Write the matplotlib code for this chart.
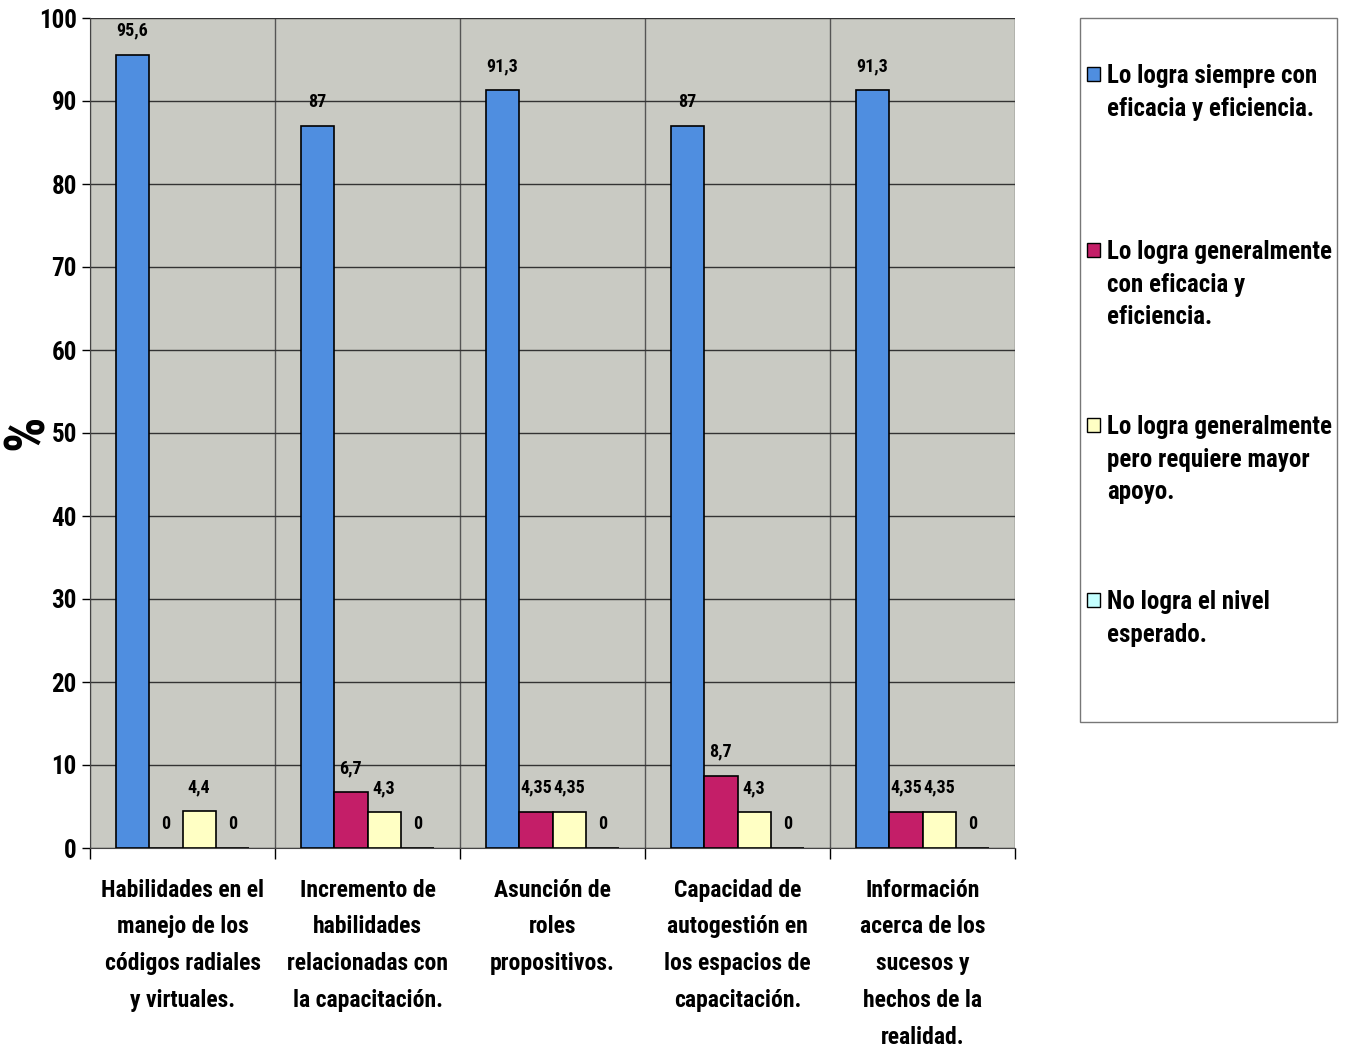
import numpy as np
import matplotlib.pyplot as plt
from matplotlib.patches import Rectangle

plt.rcParams['font.family'] = ['Roboto Condensed', 'DejaVu Sans']
plt.rcParams['font.weight'] = 'bold'

categories = [
    "Habilidades en el\nmanejo de los\ncódigos radiales\ny virtuales.",
    "Incremento de\nhabilidades\nrelacionadas con\nla capacitación.",
    "Asunción de\nroles\npropositivos.",
    "Capacidad de\nautogestión en\nlos espacios de\ncapacitación.",
    "Información\nacerca de los\nsucesos y\nhechos de la\nrealidad.",
]
series_names = [
    "Lo logra siempre con\neficacia y eficiencia.",
    "Lo logra generalmente\ncon eficacia y\neficiencia.",
    "Lo logra generalmente\npero requiere mayor\napoyo.",
    "No logra el nivel\nesperado.",
]
siempre = [95.6, 87, 91.3, 87, 91.3]
generalmente = [0, 6.7, 4.35, 8.7, 4.35]
apoyo = [4.4, 4.3, 4.35, 4.3, 4.35]
no_logra = [0, 0, 0, 0, 0]
colors = ["#4f8ee0", "#c41e68", "#ffffc4", "#c4ffff"]

W, H = 1347, 1048
fig = plt.figure(figsize=(W / 100, H / 100), dpi=100)
ax = fig.add_axes([90 / W, 1 - 848 / H, 925 / W, 830 / H])
ax.set_facecolor("#c9cac3")

x = np.arange(len(categories))
w = 0.18
for i, vals in enumerate([siempre, generalmente, apoyo, no_logra]):
    pos = x + (i - 1.5) * w
    ax.bar(pos, vals, w, color=colors[i], edgecolor="black", linewidth=1.2, zorder=3,
           label=series_names[i])
    for p, v in zip(pos, vals):
        txt = ("%g" % v).replace(".", ",")
        ax.annotate(txt, (p, v), xytext=(0, 11), textcoords="offset points",
                    ha="center", va="bottom", fontsize=13, fontweight="bold")

ax.set_xlim(-0.5, len(categories) - 0.5)
ax.set_ylim(0, 100)
ax.set_yticks(np.arange(0, 101, 10))
ax.tick_params(axis="y", labelsize=18, length=6, width=1)
ax.set_xticks(x)
ax.set_xticklabels(categories, fontsize=17, linespacing=1.77)
ax.tick_params(axis="x", which="major", length=0, pad=22)
ax.set_xticks(np.arange(-0.5, len(categories)), minor=True)
ax.tick_params(axis="x", which="minor", length=8, width=1)
ax.grid(axis="y", color="#333333", linewidth=1, zorder=0)
ax.grid(axis="x", which="minor", color="#555555", linewidth=1, zorder=0)
for s in ["top", "right"]:
    ax.spines[s].set_visible(False)
ax.spines["left"].set_color("#444444")
ax.spines["bottom"].set_color("#444444")

fig.text(28 / W, 1 - 432 / H, "%", rotation=90, fontsize=40, fontweight="bold",
         ha="center", va="center")

# legend box drawn by hand to follow the tall frame of the original
fig.patches.append(Rectangle((1080 / W, 1 - 722 / H), 257 / W, 704 / H, transform=fig.transFigure,
                             facecolor="white", edgecolor="#777777", linewidth=1))
first_line = [74, 250, 425, 600]
for i, name in enumerate(series_names):
    yc = first_line[i]
    fig.patches.append(Rectangle((1087 / W, 1 - (yc + 7) / H), 13 / W, 14 / H,
                                 transform=fig.transFigure, facecolor=colors[i],
                                 edgecolor="black", linewidth=1))
    fig.text(1107 / W, 1 - (yc - 10) / H, name, fontsize=18, fontweight="bold",
             ha="left", va="top", linespacing=1.45)

fig.savefig("out.png", dpi=100)
